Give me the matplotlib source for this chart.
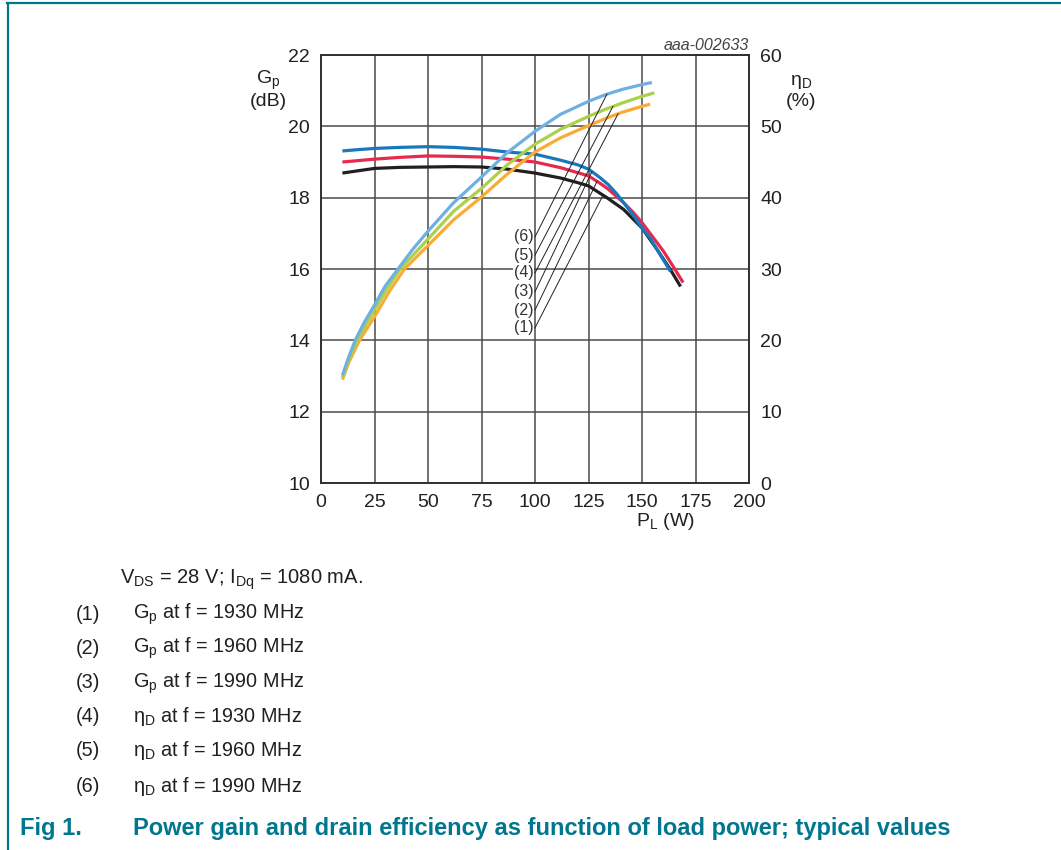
import matplotlib
matplotlib.use("Agg")
import matplotlib.pyplot as plt
import numpy as np
from matplotlib.lines import Line2D

plt.rcParams['font.family'] = ['Liberation Sans', 'DejaVu Sans']
plt.rcParams['mathtext.fontset'] = 'custom'
plt.rcParams['mathtext.rm'] = 'Liberation Sans'
plt.rcParams['mathtext.it'] = 'Liberation Sans:italic'
plt.rcParams['mathtext.default'] = 'regular'

# ---- data ----
x_gp_1930 = [10, 18, 25, 37, 50, 62, 75, 87, 100, 112, 120, 125, 133.6, 141.4, 150, 157, 163.3, 168]
gp_1930 = [18.69, 18.76, 18.82, 18.85, 18.86, 18.87, 18.86, 18.80, 18.69, 18.55, 18.42, 18.33,
           18.00, 17.67, 17.15, 16.55, 15.98, 15.51]

x_gp_1960 = [10, 25, 37, 50, 62, 75, 87, 100, 112, 120, 125, 130, 134, 141.4, 146, 150, 155, 160, 164.8, 169.2]
gp_1960 = [19.00, 19.08, 19.13, 19.17, 19.16, 19.14, 19.08, 19.00, 18.84, 18.70, 18.61, 18.42,
           18.25, 17.86, 17.58, 17.30, 16.90, 16.50, 16.05, 15.62]

x_gp_1990 = [10, 18, 25, 37, 50, 62, 75, 87, 100, 112, 120, 125, 130, 134, 138, 141.4, 146, 150, 154, 158, 163.3]
gp_1990 = [19.31, 19.35, 19.38, 19.41, 19.43, 19.41, 19.36, 19.28, 19.22, 19.05, 18.92, 18.80,
           18.58, 18.38, 18.12, 17.86, 17.50, 17.15, 16.85, 16.45, 15.93]

x_eta_1930 = [10, 13, 18, 25, 32, 39, 50, 62, 75, 87, 100, 112, 125, 133, 141, 150, 153.8]
eta_1930 = [14.5, 16.9, 20.0, 23.3, 26.9, 30.0, 33.3, 36.9, 40.1, 43.3, 46.4, 48.4, 50.1,
            51.1, 52.0, 52.8, 53.1]

x_eta_1960 = [10, 13, 17, 21, 25, 31, 37, 50, 62, 75, 87, 100, 112, 125, 133, 141, 150, 155.8]
eta_1960 = [14.8, 17.3, 20.0, 22.2, 24.25, 27.3, 30.0, 34.2, 38.1, 41.3, 44.6, 47.5, 49.6,
            51.4, 52.4, 53.3, 54.2, 54.7]

x_eta_1990 = [10, 13, 16, 20, 25, 30, 36, 43, 50, 62, 75, 87, 100, 112, 125, 133, 141, 150, 154.6]
eta_1990 = [15.1, 17.7, 20.0, 22.4, 24.95, 27.6, 30.0, 32.8, 35.3, 39.3, 42.9, 46.3, 49.3,
            51.7, 53.5, 54.45, 55.2, 55.85, 56.15]

x_ticks = [0, 25, 50, 75, 100, 125, 150, 175, 200]
gp_ticks = [10, 12, 14, 16, 18, 20, 22]
eta_ticks = [0, 10, 20, 30, 40, 50, 60]

label_ids = ['(1)', '(2)', '(3)', '(4)', '(5)', '(6)']
label_y = [14.35, 14.85, 15.36, 15.89, 16.39, 16.90]      # G_p units at x = 100
leader_x = [131.8, 129.0, 126.6, 138.8, 136.4, 133.6]

notes = ['G$_p$ at f = 1930 MHz', 'G$_p$ at f = 1960 MHz', 'G$_p$ at f = 1990 MHz',
         'η$_D$ at f = 1930 MHz', 'η$_D$ at f = 1960 MHz', 'η$_D$ at f = 1990 MHz']

# ---- styles ----
c_black = '#231f20'
c_red = '#e8294f'
c_blue = '#1878bd'
c_lblue = '#6eb0e2'
c_green = '#acd04a'
c_orange = '#f9ac35'
teal = '#00778f'
txt = '#231f20'
lw = 2.3
fs = 14

fig = plt.figure(figsize=(10.61, 8.5), dpi=100)
ax = fig.add_axes([321/1061, 1-483/850, 428/1061, 428/850])
ax2 = ax.twinx()

ax.set_xlim(0, 200)
ax.set_ylim(10, 22)
ax2.set_ylim(0, 60)
ax.set_xticks(x_ticks)
ax.set_yticks(gp_ticks)
ax2.set_yticks(eta_ticks)
ax.set_xticklabels([str(v) for v in x_ticks])
ax.set_yticklabels([str(v) for v in gp_ticks])
ax2.set_yticklabels([str(v) for v in eta_ticks])
for a in (ax, ax2):
    a.tick_params(length=0, labelsize=fs, colors=txt, pad=8)
    for s in a.spines.values():
        s.set_color('#303030')
        s.set_linewidth(1.2)
ax.grid(True, color='#4a4a4a', linewidth=1.1)
ax.set_axisbelow(True)

# gain curves (left axis scale)
for xs, ys, c in [(x_gp_1930, gp_1930, c_black), (x_gp_1960, gp_1960, c_red),
                  (x_gp_1990, gp_1990, c_blue)]:
    ax2.plot(xs, ys, color=c, lw=lw, transform=ax.transData, solid_capstyle='butt',
             solid_joinstyle='round')
# efficiency curves (right axis)
ax2.plot(x_eta_1930, eta_1930, color=c_orange, lw=lw, solid_capstyle='butt', solid_joinstyle='round')
ax2.plot(x_eta_1960, eta_1960, color=c_green, lw=lw, solid_capstyle='butt', solid_joinstyle='round')
ax2.plot(x_eta_1990, eta_1990, color=c_lblue, lw=lw, solid_capstyle='butt', solid_joinstyle='round')

# leader lines
gp_series = [(x_gp_1930, gp_1930), (x_gp_1960, gp_1960), (x_gp_1990, gp_1990)]
eta_series = [(x_eta_1930, eta_1930), (x_eta_1960, eta_1960), (x_eta_1990, eta_1990)]
for i in range(6):
    if i < 3:
        xs, ys = gp_series[i]
        yend = float(np.interp(leader_x[i], xs, ys))
    else:
        xs, ys = eta_series[i - 3]
        yend = 10 + float(np.interp(leader_x[i], xs, ys)) / 5.0
    ax2.add_line(Line2D([100, leader_x[i]], [label_y[i], yend], color='#231f20',
                        lw=0.7, transform=ax.transData))
    ax2.text(99.3, label_y[i], label_ids[i], transform=ax.transData, ha='right',
             va='center', fontsize=11.5, color='#333333',
             bbox=dict(facecolor='white', edgecolor='none', pad=0.2))

# axis labels
fig.text(268/1061, 1-80/850, 'G$_p$', ha='center', va='center', fontsize=fs, color=txt)
fig.text(268/1061, 1-102/850, '(dB)', ha='center', va='center', fontsize=fs, color=txt)
fig.text(801/1061, 1-82/850, 'η$_D$', ha='center', va='center', fontsize=fs, color=txt)
fig.text(801/1061, 1-102/850, '(%)', ha='center', va='center', fontsize=fs, color=txt)
fig.text(665/1061, 1-521/850, 'P$_L$ (W)', ha='center', va='center', fontsize=fs, color=txt)
fig.text(749/1061, 1-45/850, 'aaa-002633', ha='right', va='center', fontsize=11.5,
         color='#444444', style='italic')

# notes
fig.text(120/1061, 1-580/850, 'V$_{DS}$ = 28 V; I$_{Dq}$ = 1080 mA.', ha='left',
         va='center', fontsize=14.5, color=txt)
note_y = [614, 648, 683, 717, 751, 786]
for i in range(6):
    fig.text(76/1061, 1-note_y[i]/850, label_ids[i], ha='left', va='center',
             fontsize=14.3, color=txt)
    fig.text(133/1061, 1-note_y[i]/850, notes[i], ha='left', va='center',
             fontsize=14.3, color=txt)

fig.text(20/1061, 1-828/850, 'Fig 1.', ha='left', va='center', fontsize=17,
         color=teal, weight='bold')
fig.text(133/1061, 1-828/850,
         'Power gain and drain efficiency as function of load power; typical values',
         ha='left', va='center', fontsize=17, color=teal, weight='bold')

# frame lines
fig.add_artist(Line2D([8/1061, 8/1061], [0, 1-3/850], color=teal, lw=1.6,
                      transform=fig.transFigure))
fig.add_artist(Line2D([7/1061, 1], [1-3/850, 1-3/850], color=teal, lw=1.6,
                      transform=fig.transFigure))

fig.savefig('out.png', dpi=100)
